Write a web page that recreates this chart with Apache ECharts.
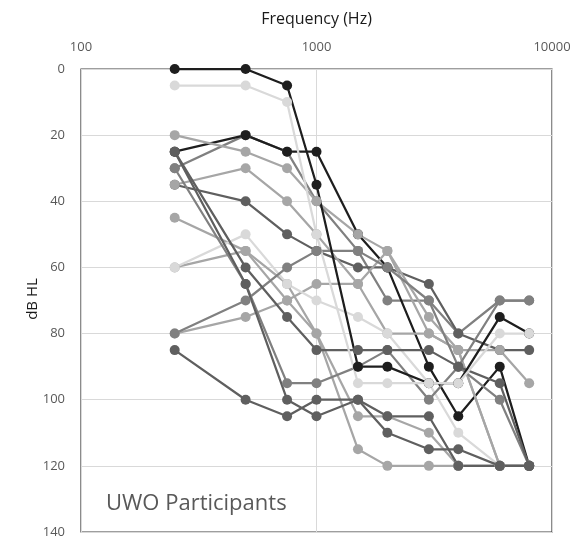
<!DOCTYPE html>
<html lang="en">
<head>
  <meta charset="UTF-8">
  <title>UWO Participants</title>
  <style>
    html, body { margin: 0; padding: 0; background: #fff; }
    #main { width: 575px; height: 540px; }
  </style>
</head>
<body>
  <div id="main"></div>
  <script src="https://cdn.jsdelivr.net/npm/echarts@6/dist/echarts.min.js"></script>
  <script>
    var myChart = echarts.init(document.getElementById("main"));

    // test frequencies (Hz)
    var freqs = [250, 500, 750, 1000, 1500, 2000, 3000, 4000, 6000, 8000];
    var xTicks = [100, 1000, 10000];
    var yTicks = [0, 20, 40, 60, 80, 100, 120, 140];

    // thresholds (dB HL), one array per participant
    var p01 = [45, 55, 65, 80, 115, 120, 120, 120, 120, 120];
    var p02 = [80, 75, 70, 80, 105, 105, 110, 120, 120, 120];
    var p03 = [60, 55, 70, 65, 65, 80, 80, 85, 120, 120];
    var p04 = [35, 30, 40, 50, 65, 55, 80, 85, 120, 120];
    var p05 = [20, 25, 30, 40, 50, 55, 75, 85, 85, 95];
    var p06 = [60, 50, 65, 70, 75, 80, 95, 110, 120, 120];
    var p07 = [5, 5, 10, 50, 95, 95, 95, 95, 80, 80];
    var p08 = [30, 20, 25, 40, 55, 70, 70, 80, 70, 70];
    var p09 = [80, 70, 60, 55, 55, 60, 70, 90, 70, 70];
    var p10 = [30, 65, 95, 95, 90, 85, 100, 90, 100, 120];
    var p11 = [25, 60, 75, 85, 85, 85, 85, 90, 95, 120];
    var p12 = [25, 65, 100, 105, 100, 105, 105, 120, 120, 120];
    var p13 = [35, 40, 50, 55, 60, 60, 65, 80, 85, 85];
    var p14 = [85, 100, 105, 100, 100, 110, 115, 115, 120, 120];
    var p15 = [25, 20, 25, 25, 50, 60, 90, 105, 90, 120];
    var p16 = [0, 0, 5, 35, 90, 90, 95, 95, 75, 80];

    // drawing order matters: later lines sit on top
    var people = [
      { v: p08, c: '#808080' },
      { v: p15, c: '#1e1e1e' },
      { v: p13, c: '#5f5f5f' },
      { v: p01, c: '#a6a6a6' },
      { v: p02, c: '#a6a6a6' },
      { v: p03, c: '#a6a6a6' },
      { v: p04, c: '#a6a6a6' },
      { v: p05, c: '#a6a6a6' },
      { v: p06, c: '#d9d9d9' },
      { v: p09, c: '#808080' },
      { v: p10, c: '#808080' },
      { v: p11, c: '#5f5f5f' },
      { v: p12, c: '#5f5f5f' },
      { v: p14, c: '#5f5f5f' },
      { v: p16, c: '#1e1e1e' },
      { v: p07, c: '#d9d9d9' }
    ];

    var series = people.map(function (p) {
      return {
        type: 'line',
        data: freqs.map(function (f, i) { return [f, p.v[i]]; }),
        symbol: 'circle',
        symbolSize: 10,
        showSymbol: true,
        lineStyle: { color: p.c, width: 2.25 },
        itemStyle: { color: p.c },
        emphasis: { disabled: true },
        silent: true
      };
    });

    var option = {
      animation: false,
      textStyle: { fontFamily: 'Open Sans' },
      title: {
        text: 'UWO Participants',
        left: 101,
        top: 488,
        textStyle: { fontSize: 22, fontWeight: 'normal', color: '#595959', fontFamily: 'Open Sans' }
      },
      // y axis title placed by hand
      graphic: [{
        type: 'text',
        x: 33,
        y: 299,
        rotation: Math.PI / 2,
        style: {
          text: 'dB HL',
          fill: '#1a1a1a',
          font: '15px "Open Sans"',
          align: 'center',
          verticalAlign: 'middle'
        }
      }],
      grid: {
        left: 81, right: 23, top: 69, bottom: 8,
        show: true,
        borderColor: '#3f3f3f',
        borderWidth: 1.2
      },
      xAxis: {
        type: 'log',
        logBase: 10,
        position: 'top',
        min: xTicks[0],
        max: xTicks[xTicks.length - 1],
        name: 'Frequency (Hz)',
        nameLocation: 'middle',
        nameGap: 42,
        nameTextStyle: { fontSize: 16, color: '#1a1a1a' },
        axisLine: { show: false },
        axisTick: { show: false },
        axisLabel: {
          color: '#595959', fontSize: 13, margin: 15,
          formatter: function (v) { return String(Math.round(v)); }
        },
        splitLine: { show: true, lineStyle: { color: '#d9d9d9', width: 1 } },
        minorTick: { show: false },
        minorSplitLine: { show: false }
      },
      yAxis: {
        type: 'value',
        inverse: true,
        min: yTicks[0],
        max: yTicks[yTicks.length - 1],
        interval: 20,
        axisLine: { show: false },
        axisTick: { show: false },
        axisLabel: { color: '#595959', fontSize: 13, margin: 16 },
        splitLine: { show: true, lineStyle: { color: '#d9d9d9', width: 1 } }
      },
      series: series
    };

    myChart.setOption(option);
  </script>
</body>
</html>
